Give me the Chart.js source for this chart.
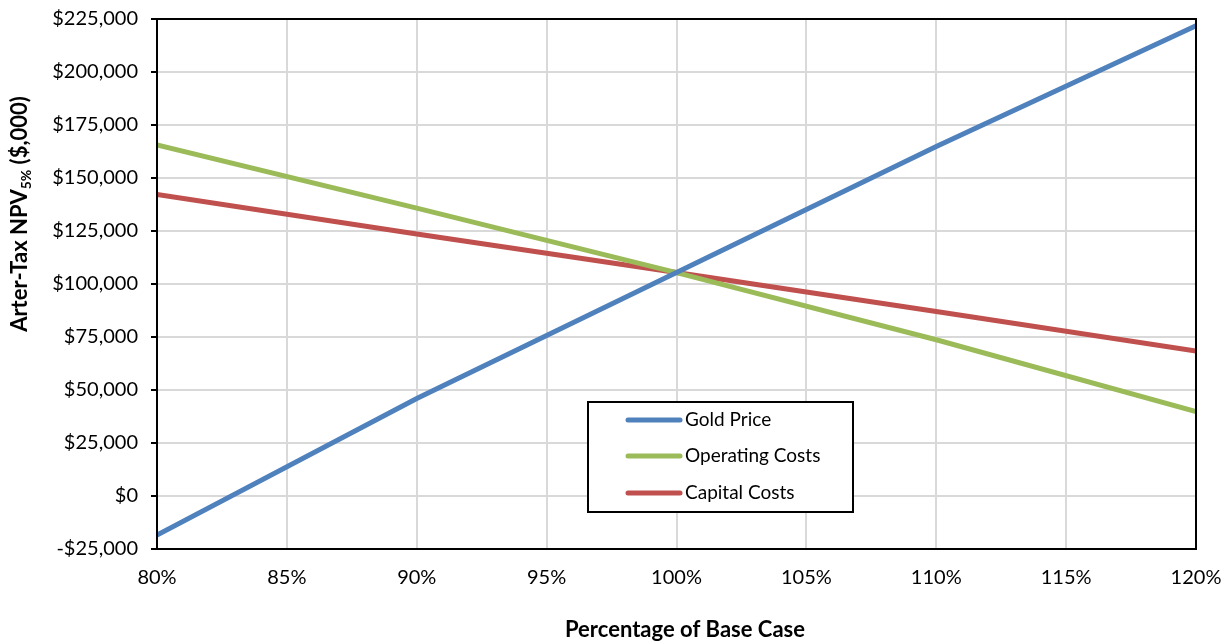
<!DOCTYPE html>
<html>
<head>
<meta charset="utf-8">
<script src="https://cdn.jsdelivr.net/npm/chart.js@4.4.0/dist/chart.umd.min.js"></script>
<style>
  html, body { margin: 0; padding: 0; background: #fff; }
  #wrap { width: 1231px; height: 642px; position: relative; }
</style>
</head>
<body>
<div id="wrap"><canvas id="npv" width="1231" height="642"></canvas></div>
<script>
// sensitivity of after-tax NPV to +/-20% changes in key inputs
const pctBase = [80, 90, 100, 110, 120];
const goldPrice = [-18400, 46000, 105400, 164800, 221800];
const operatingCosts = [165600, 135800, 105400, 73700, 39800];
const capitalCosts = [142200, 123600, 105400, 87000, 68400];
const seriesNames = ['Gold Price', 'Operating Costs', 'Capital Costs'];
const seriesColors = ['#4f81bd', '#9bbb59', '#c0504d'];

const FONT = 'Lato, "Open Sans", sans-serif';

function toPoints(vals) {
    return pctBase.map((p, i) => ({ x: p, y: vals[i] }));
}

function money(v) {
    const s = '$' + Math.abs(v).toLocaleString('en-US');
    return v < 0 ? '-' + s : s;
}

// frame, axis titles and the boxed legend inside the plot
const decorations = {
    id: 'decorations',
    afterDraw(chart) {
        const ctx = chart.ctx;
        const a = chart.chartArea;
        ctx.save();
        ctx.strokeStyle = '#000';
        ctx.lineWidth = 2;
        ctx.strokeRect(a.left, a.top, a.right - a.left, a.bottom - a.top);

        // x title
        ctx.fillStyle = '#000';
        ctx.font = 'bold 22px ' + FONT;
        ctx.textAlign = 'center';
        ctx.textBaseline = 'middle';
        ctx.fillText('Percentage of Base Case', 685, 630);

        // y title with subscript
        ctx.save();
        ctx.translate(20, 214);
        ctx.rotate(-Math.PI / 2);
        const p1 = 'Arter-Tax NPV', sub = '5%', p2 = ' ($,000)';
        ctx.font = 'bold 22px ' + FONT;
        const w1 = ctx.measureText(p1).width, w3 = ctx.measureText(p2).width;
        ctx.font = 'bold 14px ' + FONT;
        const w2 = ctx.measureText(sub).width;
        let x = -(w1 + w2 + w3) / 2;
        ctx.textAlign = 'left';
        ctx.font = 'bold 22px ' + FONT;
        ctx.fillText(p1, x, 0);
        x += w1;
        ctx.font = 'bold 14px ' + FONT;
        ctx.fillText(sub, x, 6);
        x += w2;
        ctx.font = 'bold 22px ' + FONT;
        ctx.fillText(p2, x, 0);
        ctx.restore();

        // legend
        ctx.fillStyle = '#fff';
        ctx.fillRect(588, 402, 265, 110);
        ctx.strokeStyle = '#000';
        ctx.lineWidth = 2;
        ctx.strokeRect(588, 402, 265, 110);
        const rows = [420, 456, 493];
        ctx.font = '19px ' + FONT;
        ctx.textAlign = 'left';
        ctx.textBaseline = 'middle';
        chart.data.datasets.forEach((ds, i) => {
            ctx.strokeStyle = ds.borderColor;
            ctx.lineWidth = 5;
            ctx.lineCap = 'round';
            ctx.beginPath();
            ctx.moveTo(628, rows[i]);
            ctx.lineTo(680, rows[i]);
            ctx.stroke();
            ctx.fillStyle = '#000';
            ctx.fillText(ds.label, 685, rows[i]);
        });
        ctx.restore();
    }
};

new Chart(document.getElementById('npv'), {
    type: 'line',
    data: {
        datasets: [
            { label: seriesNames[0], data: toPoints(goldPrice), borderColor: seriesColors[0] },
            { label: seriesNames[1], data: toPoints(operatingCosts), borderColor: seriesColors[1] },
            { label: seriesNames[2], data: toPoints(capitalCosts), borderColor: seriesColors[2] }
        ].map(d => Object.assign(d, { borderWidth: 5, pointRadius: 0, tension: 0, fill: false }))
    },
    options: {
        responsive: false,
        animation: false,
        layout: { padding: { top: 19, right: 35, left: 0, bottom: 0 } },
        plugins: {
            legend: { display: false },
            tooltip: { enabled: false }
        },
        scales: {
            x: {
                type: 'linear',
                min: 80,
                max: 120,
                ticks: {
                    stepSize: 5,
                    color: '#000',
                    font: { family: FONT, size: 20 },
                    padding: 17,
                    callback: v => v + '%'
                },
                grid: { color: '#d9d9d9', lineWidth: 2, drawTicks: false },
                border: { display: false },
                afterFit: s => {
                    s.height = 93;
                    s.paddingLeft = 0;
                    s.paddingRight = 0;
                }
            },
            y: {
                min: -25000,
                max: 225000,
                ticks: {
                    stepSize: 25000,
                    color: '#000',
                    font: { family: FONT, size: 20 },
                    padding: 13,
                    callback: v => money(v)
                },
                grid: { color: '#d9d9d9', lineWidth: 2, tickLength: 6, tickColor: '#000' },
                border: { display: false },
                afterFit: s => {
                    s.width = 157;
                    s.paddingTop = 0;
                    s.paddingBottom = 0;
                }
            }
        }
    },
    plugins: [decorations]
});
</script>
</body>
</html>
